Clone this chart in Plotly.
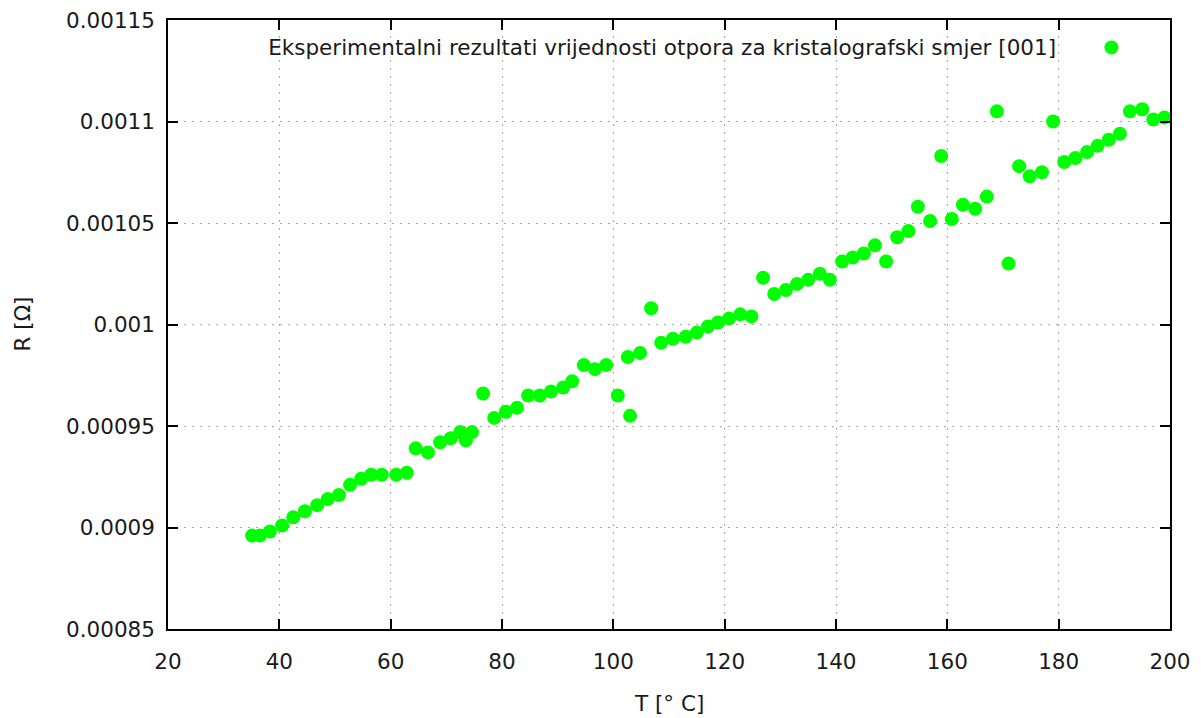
import plotly.graph_objects as go

# Temperature [°C]
T = [35.1, 36.5, 38.3, 40.5, 42.5, 44.6, 46.8, 48.7, 50.7, 52.7,
     54.7, 56.5, 58.4, 61.0, 62.9, 64.5, 66.7, 68.9, 70.8, 72.5,
     73.5, 74.6, 76.6, 78.6, 80.7, 82.7, 84.7, 86.8, 88.8, 91.0,
     92.6, 94.7, 96.7, 98.7, 100.8, 103.0, 102.6, 104.8, 106.8, 108.6,
     110.7, 113.0, 115.0, 117.0, 118.8, 120.8, 122.8, 124.8, 126.9, 128.9,
     131.0, 133.0, 135.0, 137.1, 138.9, 141.1, 143.0, 145.0, 147.0, 149.0,
     151.0, 153.0, 154.7, 156.9, 158.9, 160.8, 162.8, 165.0, 167.1, 168.9,
     171.0, 172.9, 174.8, 177.0, 179.0, 181.0, 183.0, 185.1, 187.0, 189.0,
     191.0, 192.8, 195.0, 197.0, 199.0]

# Resistance [Ohm]
R = [0.000896, 0.000896, 0.000898, 0.000901, 0.000905, 0.000908, 0.000911, 0.000914, 0.000916, 0.000921,
     0.000924, 0.000926, 0.000926, 0.000926, 0.000927, 0.000939, 0.000937, 0.000942, 0.000944, 0.000947,
     0.000943, 0.000947, 0.000966, 0.000954, 0.000957, 0.000959, 0.000965, 0.000965, 0.000967, 0.000969,
     0.000972, 0.000980, 0.000978, 0.000980, 0.000965, 0.000955, 0.000984, 0.000986, 0.001008, 0.000991,
     0.000993, 0.000994, 0.000996, 0.000999, 0.001001, 0.001003, 0.001005, 0.001004, 0.001023, 0.001015,
     0.001017, 0.001020, 0.001022, 0.001025, 0.001022, 0.001031, 0.001033, 0.001035, 0.001039, 0.001031,
     0.001043, 0.001046, 0.001058, 0.001051, 0.001083, 0.001052, 0.001059, 0.001057, 0.001063, 0.001105,
     0.001030, 0.001078, 0.001073, 0.001075, 0.001100, 0.001080, 0.001082, 0.001085, 0.001088, 0.001091,
     0.001094, 0.001105, 0.001106, 0.001101, 0.001102]

x_ticks = [20, 40, 60, 80, 100, 120, 140, 160, 180, 200]
y_ticks = [0.00085, 0.0009, 0.00095, 0.001, 0.00105, 0.0011, 0.00115]
y_tick_labels = ["0.00085", "0.0009", "0.00095", "0.001", "0.00105", "0.0011", "0.00115"]

legend_text = "Eksperimentalni rezultati vrijednosti otpora za kristalografski smjer [001]"
x_title = "T [° C]"
y_title = "R [Ω]"

FONT = "DejaVu Sans"
FS = 21.5
TXT = "#1a1a1a"

# page body has an 8px margin; figure is sized so the page is filled exactly
W, H = 1193, 710
L, RM, TM, B = 160, 31, 12, 89
pw = W - L - RM
ph = H - TM - B

fig = go.Figure()
fig.add_trace(go.Scatter(
    x=T, y=R, mode="markers", name=" ",
    marker=dict(color="#00ff00", size=14, line=dict(width=0)),
))

axis_common = dict(
    showline=True, linecolor="#000000", linewidth=1.5, mirror="ticks",
    ticks="inside", ticklen=10, tickwidth=1.5, tickcolor="#000000",
    showgrid=True, gridcolor="#a8a8a8", gridwidth=1, griddash="2px,6px",
    zeroline=False, automargin=False, ticklabeloverflow="allow",
    tickfont=dict(family=FONT, size=FS, color=TXT),
)

fig.update_layout(
    width=W, height=H,
    paper_bgcolor="white", plot_bgcolor="white",
    margin=dict(l=L, r=RM, t=TM, b=B, autoexpand=False),
    font=dict(family=FONT, size=FS, color=TXT),
    xaxis=dict(range=[20, 200], tickvals=x_ticks, ticktext=[str(v) for v in x_ticks],
               ticklabelstandoff=12, **axis_common),
    yaxis=dict(range=[0.00085, 0.00115], tickvals=y_ticks, ticktext=y_tick_labels,
               ticklabelstandoff=7, **axis_common),
    showlegend=True,
    legend=dict(
        x=0.098, y=0.955, xanchor="left", yanchor="middle",
        bgcolor="rgba(0,0,0,0)", borderwidth=0,
        title=dict(text=legend_text + "\u00a0\u00a0\u00a0\u00a0", side="left",
                   font=dict(family=FONT, size=FS, color=TXT)),
        font=dict(family=FONT, size=FS, color=TXT),
    ),
    annotations=[
        dict(text=x_title, x=(669 - 168) / pw, y=(629 - 703) / ph, xref="paper", yref="paper",
             showarrow=False, xanchor="center", yanchor="middle",
             font=dict(family=FONT, size=FS, color=TXT)),
        dict(text=y_title, textangle=-90, x=(22 - 168) / pw, y=0.5, xref="paper", yref="paper",
             showarrow=False, xanchor="center", yanchor="middle",
             font=dict(family=FONT, size=FS, color=TXT)),
    ],
)

fig.write_html("out.html")
